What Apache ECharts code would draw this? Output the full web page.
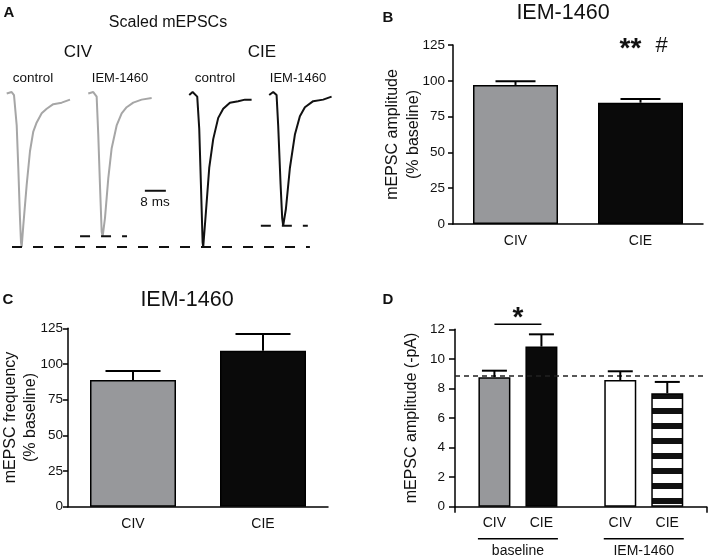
<!DOCTYPE html>
<html><head><meta charset="utf-8">
<script src="https://cdn.jsdelivr.net/npm/echarts@6/dist/echarts.min.js"></script>
<style>html,body{margin:0;padding:0;background:#fff}#c{width:710px;height:560px}</style>
</head><body><div id="c"></div><script>
const FONT = '"Liberation Sans", Arial, Helvetica, sans-serif';

// ---- Panel A: scaled mEPSC traces [time (ms), normalized amplitude]
const traceCivControl = [[0.65,0.01],[2.55,0.02],[3.43,0],[4.46,-0.2],[5.07,-0.48],[5.71,-0.81],[6.1,-0.97],[6.36,-1],[6.97,-0.86],[8.27,-0.59],[9.52,-0.37],[10.78,-0.24],[12.08,-0.18],[13.98,-0.12],[15.89,-0.09],[18.4,-0.06],[21.6,-0.05],[24.76,-0.03]];
const traceCivIem = [[31.73,0.01],[33.64,0.02],[34.93,-0.01],[35.54,-0.26],[36.19,-0.59],[36.84,-0.9],[37.22,-0.93],[38.1,-0.81],[39.35,-0.55],[40.65,-0.35],[42.55,-0.2],[44.46,-0.12],[46.36,-0.08],[48.88,-0.05],[52.08,-0.03],[55.89,-0.02]];
const traceCieControl = [[70.21,0],[71.5,0.02],[73.26,-0.01],[74.02,-0.22],[74.67,-0.59],[75.31,-0.97],[75.54,-1],[76.57,-0.77],[77.83,-0.48],[79.35,-0.29],[81.26,-0.15],[83.16,-0.09],[85.71,-0.05],[88.88,-0.04],[91.43,-0.03],[93.98,-0.03]];
const traceCieIem = [[100.69,0],[102.21,0.02],[103.5,0],[104.11,-0.2],[105.03,-0.59],[105.64,-0.81],[106.02,-0.86],[107.05,-0.75],[108.57,-0.48],[110.48,-0.26],[112.38,-0.14],[114.29,-0.08],[117.45,-0.04],[121.26,-0.03],[124.46,-0.01]];
const peakLineControl = [[2.67,-1],[116.2,-1]];
const peakLineCivIem = [[28.6,-0.93],[46.5,-0.93]];
const peakLineCieIem = [[97.5,-0.86],[115.4,-0.86]];
const scaleBar8ms = [[53.3,-0.63],[61.3,-0.63]];

// ---- Panel B / C
const groupCategories = ['CIV','CIE'];
const bValues = [97.1, 84.7];
const bErrors = [2.5, 2.6];
const cValues = [88.8, 109.3];
const cErrors = [6.3, 11.7];

// ---- Panel D
const dGroups = ['baseline','IEM-1460'];
const dCivValues = [8.76, 8.57];
const dCivErrors = [0.44, 0.59];
const dCieValues = [10.83, 7.67];
const dCieErrors = [0.83, 0.77];
const dBaselineMean = 8.89;
const dSigLevel = 12.35;

const GRAY = '#97989b';
const D_BAR_W = 32, D_GAP = 15;

// striped pattern
const pc = document.createElement('canvas');
pc.width = 8; pc.height = 15;
const pctx = pc.getContext('2d');
pctx.fillStyle = '#fff'; pctx.fillRect(0,0,8,15);
pctx.fillStyle = '#111'; pctx.fillRect(0,3,8,6);

function errItem(capW, offset) {
  return function (params, api) {
    const x = api.value(0), v = api.value(1), e = api.value(2);
    const p0 = api.coord([x, v]);
    const p1 = api.coord([x, v + e]);
    const dx = offset || 0;
    const st = {stroke:'#000', lineWidth:2};
    return {type:'group', children:[
      {type:'line', shape:{x1:p0[0]+dx, y1:p0[1], x2:p1[0]+dx, y2:p1[1]}, style:st},
      {type:'line', shape:{x1:p1[0]+dx-capW/2, y1:p1[1], x2:p1[0]+dx+capW/2, y2:p1[1]}, style:st}
    ]};
  };
}

const yAxisBase = {
  type:'value',
  axisLine:{show:true, lineStyle:{color:'#000', width:1.5}},
  axisTick:{show:true, length:5, lineStyle:{color:'#000', width:1.5}},
  splitLine:{show:false},
  axisLabel:{color:'#111', fontSize:13.5, fontFamily:FONT, margin:8},
  nameLocation:'middle', nameRotate:90, nameMoveOverlap:false,
  nameTextStyle:{color:'#111', fontSize:16, fontFamily:FONT, lineHeight:21}
};
const xCatBase = {
  type:'category',
  axisLine:{show:true, lineStyle:{color:'#000', width:1.5}},
  axisTick:{show:false},
  axisLabel:{color:'#111', fontSize:14, fontFamily:FONT, margin:10}
};

function traceSeries(data, color, extra) {
  return Object.assign({type:'line', xAxisIndex:0, yAxisIndex:0, data, showSymbol:false, symbol:'none',
    lineStyle:{color, width:2}, silent:true, animation:false}, extra || {});
}

const textEl = (text, x, y, size, opts) => ({type:'text', x, y, silent:true,
  style:Object.assign({text, fontSize:size, fontFamily:FONT, fill:'#111', align:'center', verticalAlign:'middle'}, opts || {})});

const option = {
  animation:false,
  backgroundColor:'#fff',
  grid:[
    {left:5, top:89, width:328, height:161, outerBoundsMode:'none', containLabel:false},
    {left:453, top:45, width:250, height:179, outerBoundsMode:'none', containLabel:false},
    {left:68, top:328.3, width:260, height:178.4, outerBoundsMode:'none', containLabel:false},
    {left:455, top:329.3, width:251.7, height:177.4, outerBoundsMode:'none', containLabel:false}
  ],
  xAxis:[
    {type:'value', gridIndex:0, min:0, max:125, show:false},
    Object.assign({}, xCatBase, {gridIndex:1, data:groupCategories}),
    Object.assign({}, xCatBase, {gridIndex:2, data:groupCategories}),
    Object.assign({}, xCatBase, {gridIndex:3, data:dGroups,
      axisTick:{show:true, length:6, lineStyle:{color:'#000', width:1.5}, interval:(i)=>i===1},
      axisLabel:{margin:30, color:'#111', fontFamily:FONT,
        formatter:(v)=>'{l|}\n{t|'+v+'}',
        rich:{l:{width:80, height:1.5, backgroundColor:'#000', lineHeight:4},
              t:{fontSize:14, fontFamily:FONT, color:'#111', lineHeight:20}}}})
  ],
  yAxis:[
    {type:'value', gridIndex:0, min:-1.02, max:0.04, show:false},
    Object.assign({}, yAxisBase, {gridIndex:1, min:0, max:125, interval:25, name:'mEPSC amplitude\n(% baseline)', nameGap:29}),
    Object.assign({}, yAxisBase, {gridIndex:2, min:0, max:125, interval:25, name:'mEPSC frequency\n(% baseline)', nameGap:27,
      nameTextStyle:{color:'#111', fontSize:16, fontFamily:FONT, lineHeight:20},
      axisTick:{show:true, length:5, lineStyle:{color:'#000', width:1.5}}, axisLabel:Object.assign({}, yAxisBase.axisLabel, {margin:5})}),
    Object.assign({}, yAxisBase, {gridIndex:3, min:0, max:12, interval:2, name:'mEPSC amplitude (-pA)', nameGap:33,
      axisTick:{show:true, length:6, lineStyle:{color:'#000', width:1.5}}, axisLabel:Object.assign({}, yAxisBase.axisLabel, {margin:10})})
  ],
  series:[
    traceSeries(traceCivControl, '#a6a6a6'),
    traceSeries(traceCivIem, '#a6a6a6'),
    traceSeries(traceCieControl, '#111'),
    traceSeries(traceCieIem, '#111'),
    traceSeries(peakLineControl, '#111', {lineStyle:{color:'#111', width:2, type:[10,11]}}),
    traceSeries(peakLineCivIem, '#111', {lineStyle:{color:'#111', width:2, type:[10,11]}}),
    traceSeries(peakLineCieIem, '#111', {lineStyle:{color:'#111', width:2, type:[10,11]}}),
    traceSeries(scaleBar8ms, '#111', {lineStyle:{color:'#111', width:2}}),
    // B
    {type:'bar', xAxisIndex:1, yAxisIndex:1, barWidth:85,
      data:bValues.map((v,i)=>({value:v, itemStyle:{color:i===0?GRAY:'#0a0a0a'}})),
      itemStyle:{borderColor:'#000', borderWidth:1.5}},
    {type:'custom', xAxisIndex:1, yAxisIndex:1, renderItem:errItem(40, 0),
      data:bValues.map((v,i)=>[i, v, bErrors[i]]), z:5},
    // C
    {type:'bar', xAxisIndex:2, yAxisIndex:2, barWidth:86,
      data:cValues.map((v,i)=>({value:v, itemStyle:{color:i===0?GRAY:'#0a0a0a'}})),
      itemStyle:{borderColor:'#000', borderWidth:1.5}},
    {type:'custom', xAxisIndex:2, yAxisIndex:2, renderItem:errItem(55, 0),
      data:cValues.map((v,i)=>[i, v, cErrors[i]]), z:5},
    // D
    {type:'bar', name:'CIV', xAxisIndex:3, yAxisIndex:3, barWidth:D_BAR_W, barGap:(D_GAP/D_BAR_W*100)+'%',
      data:dCivValues.map((v,i)=>({value:v, itemStyle:{color:i===0?GRAY:'#fff'}})),
      itemStyle:{borderColor:'#000', borderWidth:1.5},
      label:{show:true, position:'bottom', distance:9, formatter:'{a}', color:'#111', fontSize:14, fontFamily:FONT},
      markLine:{silent:true, symbol:'none', label:{show:false}, data:[{yAxis:dBaselineMean}],
        lineStyle:{color:'#222', width:1.5, type:[5,4]}}},
    {type:'bar', name:'CIE', xAxisIndex:3, yAxisIndex:3, barWidth:D_BAR_W,
      data:dCieValues.map((v,i)=>({value:v, itemStyle:{color:i===0?'#0a0a0a':{image:pc, repeat:'repeat'}}})),
      itemStyle:{borderColor:'#000', borderWidth:1.5},
      label:{show:true, position:'bottom', distance:9, formatter:'{a}', color:'#111', fontSize:14, fontFamily:FONT}},
    {type:'custom', xAxisIndex:3, yAxisIndex:3, renderItem:errItem(25, -(D_BAR_W+D_GAP)/2),
      data:dCivValues.map((v,i)=>[i, v, dCivErrors[i]]), z:5},
    {type:'custom', xAxisIndex:3, yAxisIndex:3, renderItem:errItem(25, (D_BAR_W+D_GAP)/2),
      data:dCieValues.map((v,i)=>[i, v, dCieErrors[i]]), z:5},
    {type:'custom', xAxisIndex:3, yAxisIndex:3, z:6, clip:false,
      data:[[0, dSigLevel]],
      renderItem:function(params, api){
        const p = api.coord([api.value(0), api.value(1)]);
        const off = (D_BAR_W+D_GAP)/2;
        return {type:'group', children:[
          {type:'line', shape:{x1:p[0]-off, y1:p[1], x2:p[0]+off, y2:p[1]}, style:{stroke:'#000', lineWidth:1.5}},
          {type:'text', x:p[0], y:p[1]-6, style:{text:'*', fontSize:28, fontWeight:'bold', fontFamily:FONT, fill:'#111', align:'center', verticalAlign:'middle'}}
        ]};
      }}
  ],
  graphic:[
    textEl('A', 9, 13, 15, {fontWeight:'bold'}),
    textEl('B', 388, 17.5, 15, {fontWeight:'bold'}),
    textEl('C', 8, 300, 15, {fontWeight:'bold'}),
    textEl('D', 388, 300, 15, {fontWeight:'bold'}),
    textEl('Scaled mEPSCs', 168, 23, 16),
    textEl('CIV', 78, 52, 17),
    textEl('CIE', 262, 52, 17),
    textEl('control', 33, 78, 13.5),
    textEl('IEM-1460', 120, 78, 13),
    textEl('control', 215, 78, 13.5),
    textEl('IEM-1460', 298, 78, 13),
    textEl('8 ms', 155, 202, 13.5),
    textEl('IEM-1460', 563, 13, 21.5),
    textEl('IEM-1460', 187, 300, 21.5),
    textEl('**', 630.5, 49, 28, {fontWeight:'bold'}),
    textEl('#', 661.5, 45.5, 22)
  ]
};
const chart = echarts.init(document.getElementById('c'), null, {renderer:'canvas'});
chart.setOption(option);
</script></body></html>
